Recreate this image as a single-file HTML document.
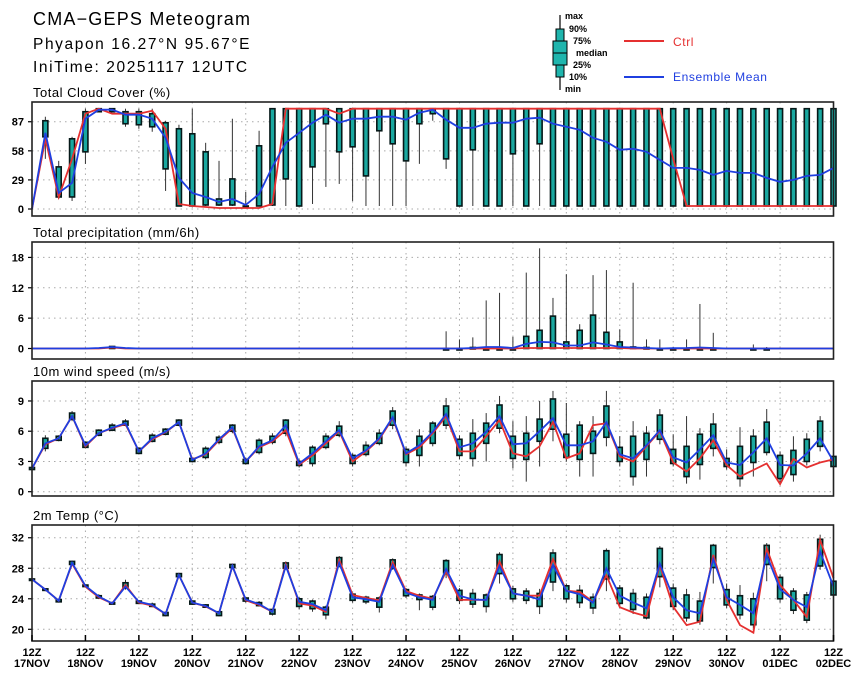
<!DOCTYPE html>
<html><head><meta charset="utf-8">
<style>
body{margin:0;background:#fff;}
svg{display:block;font-family:"Liberation Sans",sans-serif;}
.ttl{font-size:13px;letter-spacing:0.5px;}
.yl{font-size:11px;font-weight:bold;text-anchor:end;}
.xl{font-size:11px;font-weight:bold;text-anchor:middle;}
.lg{font-size:9px;font-weight:bold;}
</style></head>
<body>
<svg id="chart" width="860" height="679" viewBox="0 0 860 679">
  <text x="33" y="25" font-size="18" letter-spacing="1.2">CMA−GEPS Meteogram</text>
  <text x="33" y="49" font-size="15.5" letter-spacing="1.6">Phyapon 16.27°N 95.67°E</text>
  <text x="33" y="72" font-size="15.5" letter-spacing="1.6">IniTime: 20251117 12UTC</text>
  <g>
    <line x1="560" y1="15" x2="560" y2="90" stroke="#000" stroke-width="1.2"/>
    <rect x="556" y="29" width="8" height="48" fill="#1fb5ad" stroke="#000"/>
    <rect x="553" y="41" width="14" height="24" fill="#1fb5ad" stroke="#000"/>
    <line x1="553" y1="53" x2="567" y2="53" stroke="#000"/>
    <text class="lg" x="565" y="19">max</text>
    <text class="lg" x="569" y="32">90%</text>
    <text class="lg" x="573" y="44">75%</text>
    <text class="lg" x="576" y="56">median</text>
    <text class="lg" x="573" y="68">25%</text>
    <text class="lg" x="569" y="80">10%</text>
    <text class="lg" x="565" y="92">min</text>
    <line x1="624" y1="41" x2="664" y2="41" stroke="#e53030" stroke-width="2"/>
    <text x="673" y="46" font-size="12" letter-spacing="0.6" fill="#e53030">Ctrl</text>
    <line x1="624" y1="77" x2="664" y2="77" stroke="#1f3fe0" stroke-width="2"/>
    <text x="673" y="81" font-size="12" letter-spacing="0.6" fill="#1f3fe0">Ensemble Mean</text>
  </g>
</svg>
<script>
const xTickDays = ["17NOV","18NOV","19NOV","20NOV","21NOV","22NOV","23NOV","24NOV","25NOV","26NOV","27NOV","28NOV","29NOV","30NOV","01DEC","02DEC"];

const cloudTicks = [0,29,58,87];
const cloudMean = [0,76,16,26,90,99,99,94,94,90, 71,31,16,12,7,10,4,15,42,66, 76,86,94,86,90,90,92,92,89,96, 99,89,81,81,85,86,86,90,91,85, 82,79,71,67,59,60,57,49,41,41, 39,34,38,36,36,31,27,29,33,34, 41];
const cloudCtrl = [0,70,12,50,95,100,95,95,95,98, 80,5,3,2,1,1,1,1,5,100, 100,100,100,95,100,100,100,100,100,100, 100,100,100,100,100,100,100,100,100,100, 100,100,100,100,100,100,100,100,50,3, 3,3,3,3,3,3,3,3,3,3, 3];
const cloudMin = [0,50,10,8,45,97,97,82,80,77, 18,3,3,3,3,3,2,3,3,3, 3,5,22,25,8,3,3,3,3,45, 88,40,3,3,3,3,3,3,3,3, 3,3,3,3,3,3,3,3,3,3, 3,3,3,3,3,3,3,3,3,3, 3];
const cloudQ25 = [0,72,12,12,57,97,97,85,84,82, 40,3,3,4,4,4,3,3,4,30, 3,42,85,57,62,33,78,65,48,85, 95,50,3,59,3,3,55,3,65,3, 3,3,3,3,3,3,3,3,3,3, 3,3,3,3,3,3,3,3,3,3, 3];
const cloudQ75 = [0,88,42,70,97,100,100,97,97,95, 86,80,75,57,10,30,3,63,100,100, 100,100,100,100,100,100,100,100,100,100, 100,100,100,100,100,100,100,100,100,100, 100,100,100,100,100,100,100,100,100,100, 100,100,100,100,100,100,100,100,100,100, 100];
const cloudMax = [0,92,48,72,100,100,100,100,100,100, 88,84,100,66,48,90,17,78,100,100, 100,100,100,100,100,100,100,100,100,100, 100,100,100,100,100,100,100,100,100,100, 100,100,100,100,100,100,100,100,100,100, 100,100,100,100,100,100,100,100,100,100, 100];

const precTicks = [0,6,12,18];
const precMean = [0,0,0,0,0,0.1,0.3,0.1,0,0, 0,0,0,0,0,0,0,0,0,0, 0,0,0,0,0,0,0,0,0,0, 0,0,0,0.1,0.3,0.3,0.1,0.9,1.3,1.2, 0.6,0.6,1.2,0.8,0.3,0.2,0.1,0,0.05,0.1, 0.2,0.1,0,0,0,0,0,0,0,0, 0];
const precCtrl = [0,0,0,0,0,0,0.2,0,0,0, 0,0,0,0,0,0,0,0,0,0, 0,0,0,0,0,0,0,0,0,0, 0,0,0,0,0,0,0,0.1,0.1,0.1, 0.1,0.1,0.1,0.1,0.1,0,0,0,0,0, 0,0,0,0,0,0,0,0,0,0, 0];
const precQ75 = [0,0,0,0,0,0,0.4,0,0,0, 0,0,0,0,0,0,0,0,0,0, 0,0,0,0,0,0,0,0,0,0, 0,0,0,0.2,0,0,0,2.4,3.6,6.4, 1.3,3.6,6.6,3.2,1.3,0.3,0.2,0,0,0, 0,0,0,0,0,0,0,0,0,0, 0];
const precMax = [0,0,0,0,0,0,0.5,0,0,0, 0,0,0,0,0,0,0,0,0,0, 0,0,0,0,0,0,0,0,0,0, 0,3.4,1.8,2.2,9.5,11,2.3,15,19.8,10, 14.7,4.8,14.5,15.5,3.8,13,1.8,1.8,0.3,1.8, 8.8,3.1,0,0,0.8,0.3,0,0,0,0, 0];

const windTicks = [0,3,6,9];
const windMean = [2.3,4.8,5.3,7.5,4.6,5.8,6.35,6.8,4.0,5.3, 5.95,6.9,3.15,3.8,5.2,6.4,3.0,4.5,5.1,6.6, 2.8,3.8,5.0,6.1,3.3,4.1,5.3,7.4,3.8,4.6, 5.95,7.7,4.4,4.8,5.95,7.5,4.7,4.8,6.0,7.3, 4.6,4.6,5.0,6.9,3.7,3.3,4.6,6.1,3.4,2.9, 4.2,5.6,2.9,2.65,3.9,5.3,2.65,2.6,3.8,5.3, 3.0];
const windCtrl = [2.3,4.7,5.3,7.5,4.5,5.8,6.3,6.7,4.0,5.2, 5.9,6.9,3.2,3.7,5.1,6.3,3.0,4.4,5.0,6.1, 2.7,3.6,4.8,6.0,3.0,4.0,5.2,7.3,3.7,4.4, 5.8,7.5,4.0,4.0,5.5,7.1,3.8,3.5,4.5,6.9, 3.3,3.8,6.6,6.8,3.5,3.0,4.5,6.0,2.9,2.0, 3.3,5.1,2.65,1.5,2.15,2.8,0.75,3.25,2.4,2.9, 3.2];
const windQ25 = [2.2,4.3,5.1,7.2,4.4,5.6,6.1,6.6,3.8,5.0, 5.7,6.6,3.0,3.4,4.9,6.0,2.8,3.9,4.9,5.8, 2.6,2.8,4.4,5.6,2.8,3.7,4.8,6.6,2.9,3.6, 4.8,6.6,3.6,3.3,4.8,6.3,3.3,3.2,5.0,6.2, 3.4,3.2,3.8,5.4,3.0,1.5,3.2,5.2,2.8,1.5, 2.7,4.3,2.5,1.3,2.9,3.9,1.3,1.7,3.0,4.5, 2.5];
const windQ75 = [2.4,5.3,5.5,7.8,4.9,6.1,6.6,7.0,4.3,5.6, 6.2,7.1,3.3,4.3,5.4,6.6,3.2,5.1,5.5,7.1, 3.0,4.4,5.5,6.5,3.6,4.6,5.8,8.0,4.2,5.5, 6.8,8.5,5.2,5.8,6.8,8.6,5.5,5.8,7.2,9.2, 5.7,6.6,6.0,8.5,4.4,5.5,5.8,7.6,4.2,4.5, 5.7,6.7,3.3,4.5,5.5,6.9,3.6,4.1,5.2,7.0, 3.5];
const windMin = [2.1,4.0,5.0,7.0,4.3,5.5,6.0,6.5,3.7,4.9, 5.6,6.5,2.9,3.2,4.7,5.8,2.7,3.7,4.7,5.5, 2.4,2.5,4.2,5.4,2.5,3.5,4.6,6.2,2.5,2.5, 4.5,6.2,3.2,2.5,3.0,5.8,2.3,1.0,2.5,5.0, 3.0,1.5,1.5,4.5,2.5,0.6,1.5,4.7,2.5,0.8, 1.2,3.5,2.2,0.5,1.5,3.6,0.8,1.0,2.6,4.0, 1.8];
const windMax = [2.4,5.6,5.6,8.0,5.0,6.2,6.8,7.2,4.4,5.8, 6.3,7.2,3.4,4.5,5.6,6.7,3.4,5.3,5.8,7.2, 3.2,4.6,5.8,7.0,3.8,5.0,6.2,8.4,4.5,6.2, 7.0,9.3,5.6,7.2,7.8,9.5,7.0,7.5,9.0,10.0, 8.8,7.0,7.5,10.0,5.5,7.0,6.5,8.2,5.7,7.5, 6.3,7.8,4.2,6.4,6.2,8.2,4.0,5.5,5.8,7.5, 4.0];

const tempTicks = [20,24,28,32];
const tempMean = [26.55,25.2,23.75,28.7,25.7,24.3,23.4,25.6,23.6,23.2, 22.0,27.1,23.5,23.05,22.1,28.3,23.9,23.3,22.3,28.3, 23.6,23.3,22.5,28.7,24.2,23.95,23.6,28.4,24.8,24.2, 23.85,27.9,24.4,23.9,23.85,28.3,24.7,24.4,23.9,28.4, 25.05,24.6,23.5,28.0,24.4,23.5,22.75,28.6,24.2,22.5, 22.1,29.2,24.2,23.2,22.1,29.75,25.25,23.85,22.9,30.2, 25.6];
const tempCtrl = [26.55,25.2,23.75,28.6,25.6,24.2,23.4,25.8,23.5,23.1, 22.0,27.1,23.5,23.0,22.1,28.3,23.8,23.2,22.3,28.5, 23.4,23.1,22.3,29.1,24.5,24.1,23.8,28.8,25.0,24.4, 24.0,27.6,23.85,23.85,23.85,28.9,24.7,24.4,24.4,29.2, 25.05,24.9,23.6,27.1,22.9,22.2,21.7,28.4,22.95,20.55, 21.0,29.75,23.85,20.55,19.55,30.6,25.8,23.85,21.6,31.7, 26.7];
const tempQ25 = [26.5,25.1,23.6,28.5,25.6,24.1,23.3,25.4,23.4,23.0, 21.8,26.9,23.3,22.9,21.8,28.1,23.7,23.1,22.0,28.0, 23.0,22.7,21.9,28.3,23.8,23.6,22.9,28.0,24.4,23.9, 22.9,27.4,23.8,23.3,23.0,27.3,24.0,23.8,23.0,26.2, 24.0,23.5,22.8,26.6,23.4,22.6,21.5,26.9,23.0,21.5, 21.1,28.1,23.2,21.9,20.6,28.5,24.0,22.5,21.2,28.3, 24.5];
const tempQ75 = [26.6,25.3,23.9,28.9,25.8,24.4,23.5,26.1,23.7,23.3, 22.2,27.3,23.7,23.2,22.3,28.5,24.1,23.5,22.6,28.7, 24.0,23.7,22.9,29.4,24.6,24.2,24.1,29.1,25.2,24.5, 24.3,29.0,25.1,24.7,24.5,29.8,25.3,25.0,24.7,30.0, 25.7,25.1,24.2,30.3,25.4,24.7,24.2,30.6,25.4,24.5, 23.7,31.0,25.2,24.4,24.0,31.0,26.8,25.0,24.5,31.8, 26.3];
const tempMin = [26.4,25.0,23.5,28.4,25.5,24.0,23.2,25.2,23.3,22.9, 21.7,26.8,23.2,22.8,21.7,28.0,23.5,23.0,21.8,27.8, 22.6,22.3,21.3,28.1,23.5,23.3,22.2,27.8,24.1,22.5, 22.5,26.7,23.3,22.8,22.2,26.0,23.6,23.3,22.0,25.0, 23.5,22.8,22.0,25.0,22.9,22.0,21.3,25.5,22.5,21.0, 20.6,26.0,22.8,21.3,20.1,26.3,23.5,22.0,20.8,27.8, 23.8];
const tempMax = [26.7,25.4,24.0,29.0,25.9,24.6,23.6,26.5,23.8,23.5, 22.3,27.4,23.8,23.3,22.4,28.6,24.2,23.7,22.7,28.9, 24.2,23.9,23.1,29.6,24.8,24.4,24.3,29.3,25.4,24.7, 24.5,29.2,25.4,25.3,24.7,30.1,25.7,25.4,25.3,30.5, 26.0,25.8,24.7,30.6,25.8,25.3,24.7,30.9,26.0,25.3, 24.9,31.2,26.0,25.8,24.8,31.3,27.2,25.4,24.9,32.4, 26.6];

const NS = "http://www.w3.org/2000/svg";
const svg = document.getElementById("chart");
const X0 = 32, X1 = 833.5, NSTEP = 60;
function xPos(i){ return X0 + (X1 - X0) * i / NSTEP; }
function mk(tag, attrs, parent){
  const e = document.createElementNS(NS, tag);
  for (const k in attrs) e.setAttribute(k, attrs[k]);
  (parent || svg).appendChild(e);
  return e;
}

function panel(cfg){
  const g = mk("g", {});
  
  
  const yPos = v => cfg.y0 - (v - cfg.vmin) * cfg.scale;
  for (let d = 1; d < xTickDays.length - 1; d++) {
    const gl = mk("line", {x1: xPos(d*4), x2: xPos(d*4), y1: cfg.top, y2: cfg.bot, stroke: "#aaa", "stroke-dasharray": "1.5,4", "stroke-width": 1}, g);
    
    
  }
  cfg.ticks.forEach(t => {
    const gl = mk("line", {x1: X0, x2: X1, y1: yPos(t), y2: yPos(t), stroke: "#aaa", "stroke-dasharray": "1.5,4", "stroke-width": 1}, g);
    
    
    mk("line", {x1: X0-4, x2: X0, y1: yPos(t), y2: yPos(t), stroke: "#000", "stroke-width": 1.2}, g);
    const tl = mk("text", {x: X0-8, y: yPos(t)+4, class: "yl"}, g);
    tl.textContent = t;
    
    
  });
  for (let i = 0; i <= NSTEP; i++) {
    const x = xPos(i);
    if (cfg.max[i] - cfg.min[i] <= 0 && cfg.q75[i] - cfg.q25[i] <= 0) continue;
    const w = mk("line", {x1: x, x2: x, y1: yPos(cfg.min[i]), y2: yPos(cfg.max[i]), stroke: "#333", "stroke-width": 1}, g);
    
    
    const h = Math.max(1.5, yPos(cfg.q25[i]) - yPos(cfg.q75[i]));
    const b = mk("rect", {x: x-2.5, y: yPos(cfg.q75[i]), width: 5, height: h, fill: "#1aa8a0", stroke: "#061818", "stroke-width": 1.6}, g);
    
    
  }
  const lineFor = (arr) => arr.map((v, i) => (i ? "L" : "M") + xPos(i).toFixed(1) + "," + yPos(v).toFixed(1)).join("");
  const c = mk("path", {d: lineFor(cfg.ctrl), fill: "none", stroke: "#e53030", "stroke-width": 1.8}, g);
  
  
  const m = mk("path", {d: lineFor(cfg.mean), fill: "none", stroke: "#1f3fe0", "stroke-width": 1.8}, g);
  
  
  const fr = mk("rect", {x: X0, y: cfg.top, width: X1 - X0, height: cfg.bot - cfg.top, fill: "none", stroke: "#222", "stroke-width": 1.6}, g);
  
  
  const t = mk("text", {x: 33, y: cfg.top - 5, class: "ttl"}, g);
  t.textContent = cfg.title;
  
  
}

panel({name: "cloud-cover", title: "Total Cloud Cover (%)", top: 102, bot: 216, y0: 209, vmin: 0, scale: 1.003, ticks: cloudTicks,
  mean: cloudMean, ctrl: cloudCtrl, min: cloudMin, q25: cloudQ25, q75: cloudQ75, max: cloudMax});
panel({name: "precipitation", title: "Total precipitation (mm/6h)", top: 242, bot: 359, y0: 348.5, vmin: 0, scale: 5.06, ticks: precTicks,
  mean: precMean, ctrl: precCtrl, min: precMean.map(() => 0), q25: precMean.map(() => 0), q75: precQ75, max: precMax});
panel({name: "wind-speed", title: "10m wind speed (m/s)", top: 381, bot: 496, y0: 491.7, vmin: 0, scale: 10.08, ticks: windTicks,
  mean: windMean, ctrl: windCtrl, min: windMin, q25: windQ25, q75: windQ75, max: windMax});
panel({name: "temperature", title: "2m Temp (°C)", top: 525, bot: 641, y0: 629.3, vmin: 20, scale: 7.63, ticks: tempTicks,
  mean: tempMean, ctrl: tempCtrl, min: tempMin, q25: tempQ25, q75: tempQ75, max: tempMax});

xTickDays.forEach((d, k) => {
  const x = xPos(k*4);
  mk("line", {x1: x, x2: x, y1: 641, y2: 635, stroke: "#000", "stroke-width": 1.5});
  const a = mk("text", {x: x, y: 656, class: "xl"});
  a.textContent = "12Z";
  
  
  const b = mk("text", {x: x, y: 667, class: "xl"});
  b.textContent = d;
  
  
});
</script>
</body></html>
